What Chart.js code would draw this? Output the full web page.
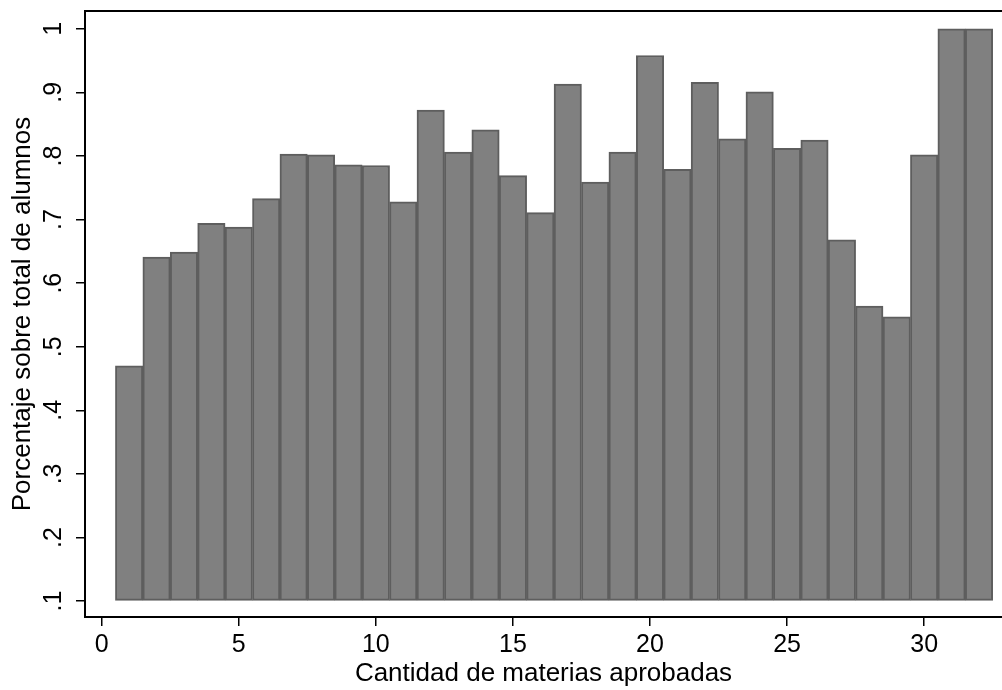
<!DOCTYPE html>
<html>
<head>
<meta charset="utf-8">
<script src="https://cdn.jsdelivr.net/npm/chart.js@4.4.1/dist/chart.umd.min.js"></script>
<style>
html,body{margin:0;padding:0;background:#fff;}
canvas{display:block;}
</style>
</head>
<body>
<canvas id="chart" width="1002" height="690"></canvas>
<script>
// cantidad de materias aprobadas (1..32)
const materias = [1,2,3,4,5,6,7,8,9,10,11,12,13,14,15,16,17,18,19,20,21,22,23,24,25,26,27,28,29,30,31,32];
// porcentaje sobre total de alumnos
const porcentaje = [0.470,0.641,0.649,0.694,0.688,0.733,0.803,0.802,0.786,0.785,0.728,0.872,0.806,0.841,0.769,0.711,
                    0.913,0.759,0.806,0.958,0.779,0.916,0.827,0.901,0.812,0.825,0.668,0.564,0.547,0.802,1.000,1.000];
const xTicks = [0,5,10,15,20,25,30];
const yTicks = [0.1,0.2,0.3,0.4,0.5,0.6,0.7,0.8,0.9,1];

const FONT = '"Liberation Sans", Arial, Helvetica, sans-serif';

function fmtY(v){
  if (v >= 1) return '1';
  return String(Math.round(v * 10) / 10).replace(/^0/, '');
}

(function drawChart(){
const el = document.getElementById('chart');
new Chart(el, {
  type:'bar',
  data:{
    datasets:[{
      data: materias.map((m, i) => ({ x:m, y:porcentaje[i] })),
      base:0.1,
      backgroundColor:'#808080',
      borderColor:'#5e5e5e',
      borderWidth:2,
      borderSkipped:false,
      barPercentage:1,
      categoryPercentage:1
    }]
  },
  options:{
    responsive:false, animation:false, devicePixelRatio:1,
    layout:{ padding:{ top:11, left:0, right:0, bottom:0 } },
    plugins:{ legend:{display:false}, tooltip:{enabled:false} },
    scales:{
      x:{
        type:'linear', position:'bottom', min:-0.61, max:32.84, offset:false,
        afterBuildTicks: s => { s.ticks = xTicks.map(v => ({ value:v })); },
        afterFit: s => { s.height = 73; s.paddingLeft = 0; s.paddingRight = 0; },
        grid:{ drawOnChartArea:false, offset:false, tickLength:9, color:'#000', lineWidth:1.5 },
        border:{ color:'#000', width:2 },
        ticks:{ color:'#000', font:{ family:FONT, size:25 }, padding:4, maxRotation:0, autoSkip:false },
        title:{ display:true, text:'Cantidad de materias aprobadas', color:'#000',
                font:{ family:FONT, size:26, lineHeight:1.2 }, padding:{ top:0, bottom:1 } }
      },
      x2:{
        type:'linear', position:'top', min:-0.61, max:32.84, offset:false,
        ticks:{ display:false }, grid:{ display:false, offset:false },
        border:{ color:'#000', width:2 },
        afterFit: s => { s.height = 0; }
      },
      y:{
        min:0.075, max:1.028,
        afterBuildTicks: s => { s.ticks = yTicks.map(v => ({ value:v })); },
        afterFit: s => { s.width = 85; s.paddingTop = 0; s.paddingBottom = 0; },
        grid:{ drawOnChartArea:false, tickLength:9, color:'#000', lineWidth:1.5 },
        border:{ color:'#000', width:2 },
        ticks:{ color:'#000', font:{ family:FONT, size:25 }, minRotation:90, maxRotation:90,
                crossAlign:'center', padding:11, autoSkip:false, callback: v => fmtY(v) },
        title:{ display:true, text:'Porcentaje sobre total de alumnos', color:'#000',
                font:{ family:FONT, size:26, lineHeight:1.2 }, padding:{ top:7, bottom:0 } }
      }
    }
  }
});
})();
</script>
</body>
</html>
